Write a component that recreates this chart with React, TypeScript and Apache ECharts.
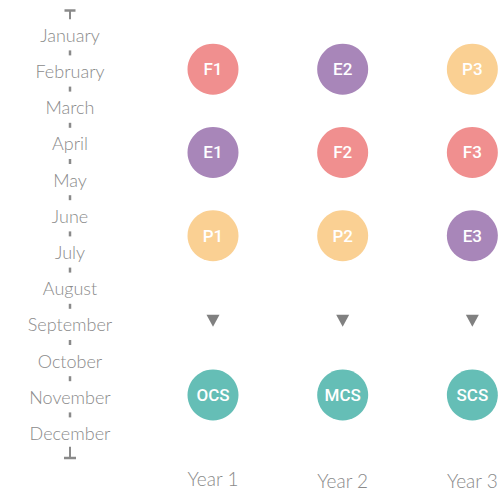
import React, { useEffect, useRef } from "react";
import * as echarts from "echarts";

const months = [
  "January", "February", "March", "April", "May", "June",
  "July", "August", "September", "October", "November", "December",
];
const years = ["Year 1", "Year 2", "Year 3"];
const rowLabels = [
  ["F1", "E2", "P3"],
  ["E1", "F2", "F3"],
  ["P1", "P2", "E3"],
];
// vertical position of each row, in month units (January = 1)
const rowPositions = [1.95, 4.25, 6.55];
const arrowPosition = 8.9;
const outcomeLabels = ["OCS", "MCS", "SCS"];
const outcomePosition = 10.95;
const typeColors: Record<string, string> = { F: "#F08F8F", E: "#A886B9", P: "#FAD093" };
const outcomeColor = "#65BEB6";

const GREY = "#8a8a8a";
const TEXT_FONT = "Lato";
const CIRCLE_FONT = "Roboto";

export default function App() {
  const ref = useRef<HTMLDivElement>(null);
  useEffect(() => {
    if (!ref.current) return;
    const chart = echarts.init(ref.current, undefined, { renderer: "svg" });
    const dashPositions = months.slice(1).map((_, i) => i + 1.5);
    const yMin = 0.5;
    const yMax = months.length + 0.5;
    const circleData = rowLabels.flatMap((row, r) =>
      row.map((name, c) => ({
        name,
        value: [years[c], rowPositions[r]],
        itemStyle: { color: typeColors[name[0]], opacity: 1 },
      }))
    );
    const outcomeData = outcomeLabels.map((name, c) => ({
      name,
      value: [years[c], outcomePosition],
    }));
    const circleLabel = {
      show: true,
      position: "inside" as const,
      formatter: "{b}",
      color: "#ffffff",
      fontSize: 17,
      fontWeight: 500,
      fontFamily: CIRCLE_FONT,
    };
    const labelText = { color: GREY, fontSize: 19, fontFamily: TEXT_FONT, fontWeight: 300, lineHeight: 19 };
    chart.setOption({
      animation: false,
      backgroundColor: "#ffffff",
      grid: [
        { left: 70, width: 10, top: 16.7, bottom: 40.9 },
        { left: 213, right: 28, top: 16.7, bottom: 40.9 },
      ],
      xAxis: [
        { gridIndex: 0, type: "value", min: 0, max: 1, show: false },
        {
          gridIndex: 1,
          type: "category",
          data: years,
          boundaryGap: false,
          axisLine: { show: false },
          axisTick: { show: false },
          splitLine: { show: false },
          axisLabel: {
            margin: 18,
            ...labelText,
            formatter: (v: string, i: number) => (i === 0 ? `{a|${v}}` : `{b|${v}}`),
            rich: {
              a: { ...labelText, padding: [0, 0, 0, 0] },
              b: { ...labelText, padding: [3, 0, 0, 0] },
            },
          },
        },
      ],
      yAxis: [
        { gridIndex: 0, type: "value", min: yMin, max: yMax, inverse: true, show: false },
        {
          gridIndex: 0,
          type: "category",
          data: months,
          inverse: true,
          position: "left",
          axisLine: { show: false },
          axisTick: { show: false },
          splitLine: { show: false },
          axisLabel: {
            margin: 0,
            align: "center",
            color: GREY,
            fontSize: 18,
            fontWeight: 300,
            fontFamily: TEXT_FONT,
          },
        },
        { gridIndex: 1, type: "value", min: yMin, max: yMax, inverse: true, show: false },
      ],
      series: [
        {
          type: "scatter",
          xAxisIndex: 0,
          yAxisIndex: 0,
          silent: true,
          symbol: "rect",
          symbolSize: [2.5, 5],
          itemStyle: { color: GREY, opacity: 1 },
          data: dashPositions.map((p) => [0, p]),
        },
        {
          type: "scatter",
          xAxisIndex: 0,
          yAxisIndex: 0,
          silent: true,
          symbol: "path://M0,0H11V2.5H6.5V10H4.5V2.5H0Z",
          symbolSize: [11, 10],
          symbolOffset: [0, -2.5],
          itemStyle: { color: GREY, opacity: 1 },
          data: [[0, yMin]],
        },
        {
          type: "scatter",
          xAxisIndex: 0,
          yAxisIndex: 0,
          silent: true,
          symbol: "path://M5,0H7V10H12V12.5H0V10H5Z",
          symbolSize: [12, 12.5],
          symbolOffset: [0, 2],
          itemStyle: { color: GREY, opacity: 1 },
          data: [[0, yMax]],
        },
        {
          type: "scatter",
          xAxisIndex: 1,
          yAxisIndex: 2,
          symbol: "circle",
          symbolSize: 51,
          itemStyle: { opacity: 1 },
          label: circleLabel,
          data: circleData,
        },
        {
          type: "scatter",
          xAxisIndex: 1,
          yAxisIndex: 2,
          symbol: "triangle",
          symbolRotate: 180,
          symbolSize: [13, 12],
          itemStyle: { color: "#808080", opacity: 1 },
          data: years.map((y) => [y, arrowPosition]),
        },
        {
          type: "scatter",
          xAxisIndex: 1,
          yAxisIndex: 2,
          symbol: "circle",
          symbolSize: 51,
          itemStyle: { color: outcomeColor, opacity: 1 },
          label: circleLabel,
          data: outcomeData,
        },
      ],
    });
    return () => chart.dispose();
  }, []);
  return (
    <div
      ref={ref}
      style={{ position: "fixed", left: 0, top: 0, width: 501, height: 492 }}
    />
  );
}
